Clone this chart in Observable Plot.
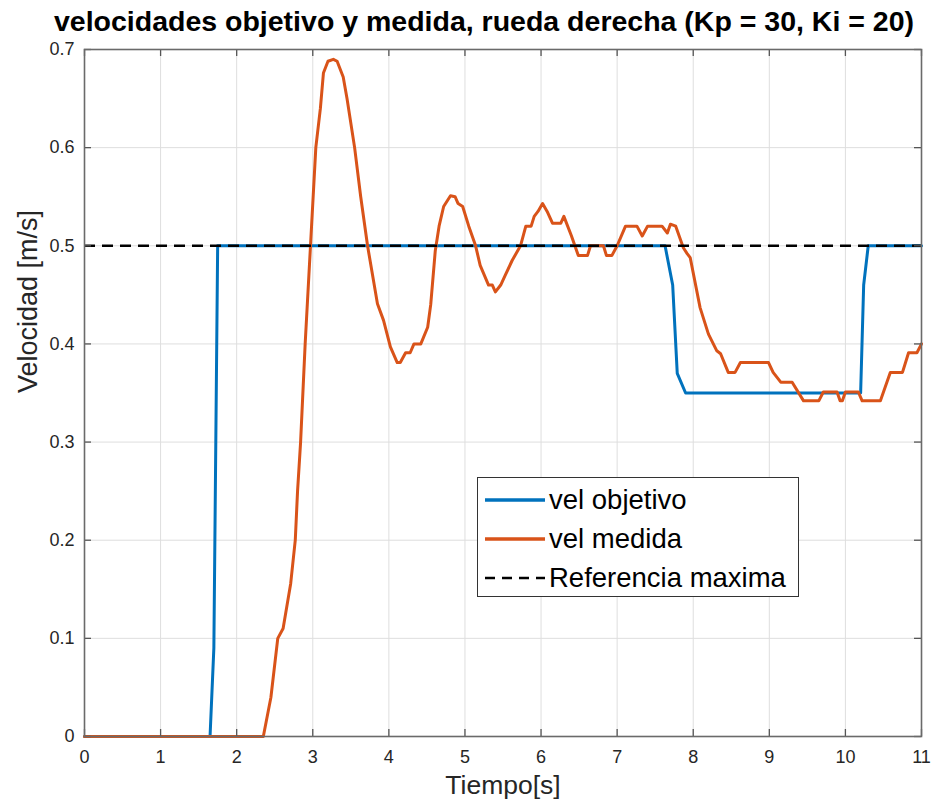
<!DOCTYPE html>
<html>
<head>
<meta charset="utf-8">
<script src="https://cdn.jsdelivr.net/npm/d3@7"></script>
<script src="https://cdn.jsdelivr.net/npm/@observablehq/plot@0.6"></script>
<style>
  body { margin: 0; background: #fff; font-family: "Liberation Sans", Arial, sans-serif; }
  #wrap { position: relative; width: 934px; height: 806px; overflow: hidden; }
  #title { position: absolute; left: 0; top: 5px; width: 968px; text-align: center;
           font-weight: bold; font-size: 28.5px; color: #000; white-space: nowrap; line-height: 33px; }
  #legend { position: absolute; left: 477px; top: 477px; width: 322px; height: 120px;
            border: 1.5px solid #333; background: #fff; box-sizing: border-box; }
  .row { position: absolute; left: 5px; height: 32px; display: flex; align-items: center;
         font-size: 27.5px; color: #000; white-space: nowrap; }
  .row svg { width: 64px; height: 10px; margin-right: 2px; }
</style>
</head>
<body>
<div id="wrap">
  <div id="chart"></div>
  <div id="title"></div>
  <div id="legend"></div>
</div>
<script>
// ---- data ----
const tituloGrafico = "velocidades objetivo y medida, rueda derecha (Kp = 30, Ki = 20)";
const etiquetaX = "Tiempo[s]";
const etiquetaY = "Velocidad [m/s]";
const nombresSeries = ["vel objetivo", "vel medida", "Referencia maxima"];

const tiempoObjetivo = [0, 1.65, 1.70, 1.75, 7.63, 7.73, 7.79, 7.90, 10.20, 10.24, 10.30, 11];
const velObjetivo    = [0, 0,    0.09, 0.5,  0.5,  0.46, 0.37, 0.35, 0.35,  0.46,  0.5,   0.5];

const tiempoMedida = [0, 2.35, 2.45, 2.54, 2.61, 2.71, 2.77, 2.80, 2.84, 2.90, 2.97, 3.04, 3.10, 3.14, 3.20, 3.27,
  3.32, 3.40, 3.45, 3.55, 3.63, 3.72, 3.85, 3.93, 4.02, 4.11, 4.15, 4.22, 4.28, 4.33, 4.42, 4.51, 4.55, 4.61,
  4.66, 4.72, 4.81, 4.87, 4.91, 4.97, 5.05, 5.14, 5.20, 5.31, 5.36, 5.40, 5.47, 5.53, 5.62, 5.73, 5.80, 5.87,
  5.91, 5.96, 6.02, 6.08, 6.15, 6.26, 6.30, 6.40, 6.49, 6.61, 6.65, 6.82, 6.86, 6.93, 7.00, 7.11, 7.26, 7.33,
  7.40, 7.59, 7.66, 7.70, 7.77, 7.87, 7.92, 7.96, 8.09, 8.20, 8.31, 8.36, 8.46, 8.55, 8.62, 8.99, 9.05, 9.15,
  9.30, 9.45, 9.65, 9.71, 9.89, 9.93, 9.96, 10.00, 10.17, 10.22, 10.46, 10.59, 10.75, 10.83, 10.94, 11.00];
const velMedida = [0, 0, 0.04, 0.10, 0.11, 0.156, 0.20, 0.25, 0.30, 0.40, 0.50, 0.60, 0.64, 0.676, 0.688, 0.69,
  0.688, 0.672, 0.65, 0.60, 0.55, 0.50, 0.441, 0.424, 0.397, 0.381, 0.381, 0.391, 0.391, 0.40, 0.40, 0.417, 0.44, 0.495,
  0.52, 0.54, 0.551, 0.55, 0.543, 0.54, 0.52, 0.50, 0.48, 0.46, 0.46, 0.453, 0.46, 0.47, 0.485, 0.50, 0.52, 0.52,
  0.53, 0.535, 0.543, 0.535, 0.523, 0.523, 0.53, 0.51, 0.49, 0.49, 0.50, 0.50, 0.49, 0.49, 0.50, 0.52, 0.52, 0.51,
  0.52, 0.52, 0.513, 0.522, 0.52, 0.498, 0.492, 0.488, 0.437, 0.41, 0.393, 0.39, 0.371, 0.371, 0.381, 0.381, 0.371, 0.361,
  0.361, 0.342, 0.342, 0.351, 0.351, 0.342, 0.342, 0.351, 0.351, 0.342, 0.342, 0.371, 0.371, 0.391, 0.391, 0.40];

const referenciaMaxima = [0.5];
const ticksX = [0, 1, 2, 3, 4, 5, 6, 7, 8, 9, 10, 11];
const ticksY = [0, 0.1, 0.2, 0.3, 0.4, 0.5, 0.6, 0.7];
const etiquetasY = ["0", "0.1", "0.2", "0.3", "0.4", "0.5", "0.6", "0.7"];

// ---- styling ----
const azul = "#0072BD", naranja = "#D95319";
const objetivo = tiempoObjetivo.map((t, i) => ({t, v: velObjetivo[i]}));
const medida = tiempoMedida.map((t, i) => ({t, v: velMedida[i]}));

const W = 934, H = 806, mL = 84, mR = 13, mT = 49, mB = 70;
const pxX = (11 - 0) / (W - mL - mR);   // data units per pixel
const pxY = (0.7 - 0) / (H - mT - mB);
const tickLen = 7;

const chart = Plot.plot({
  width: W, height: H,
  marginLeft: mL, marginRight: mR, marginTop: mT, marginBottom: mB,
  style: { fontFamily: "Liberation Sans, Arial, sans-serif", background: "white", color: "#262626", overflow: "visible" },
  x: { domain: [0, 11] },
  y: { domain: [0, 0.7] },
  marks: [
    Plot.gridX(ticksX, { stroke: "#dedede", strokeOpacity: 1, strokeWidth: 1 }),
    Plot.gridY(ticksY, { stroke: "#dedede", strokeOpacity: 1, strokeWidth: 1 }),
    Plot.line(objetivo, { x: "t", y: "v", stroke: azul, strokeWidth: 3 }),
    Plot.line(medida, { x: "t", y: "v", stroke: naranja, strokeWidth: 3 }),
    Plot.ruleY(referenciaMaxima, { stroke: "black", strokeWidth: 2.6, strokeDasharray: "11,7" }),
    // inward ticks on all four sides
    Plot.ruleX(ticksX, { x: d => d, y1: 0, y2: tickLen * pxY, stroke: "#555", strokeWidth: 1.3 }),
    Plot.ruleX(ticksX, { x: d => d, y1: 0.7, y2: 0.7 - tickLen * pxY, stroke: "#555", strokeWidth: 1.3 }),
    Plot.ruleY(ticksY, { y: d => d, x1: 0, x2: tickLen * pxX, stroke: "#555", strokeWidth: 1.3 }),
    Plot.ruleY(ticksY, { y: d => d, x1: 11, x2: 11 - tickLen * pxX, stroke: "#555", strokeWidth: 1.3 }),
    Plot.frame({ stroke: "#6a6a6a", strokeWidth: 1.6 }),
    Plot.axisX(ticksX, { tickSize: 0, tickPadding: 14, fontSize: 18, label: null, tickFormat: d => String(d) }),
    Plot.axisY(ticksY, { tickSize: 0, tickPadding: 10, fontSize: 18, label: null, tickFormat: (d, i) => etiquetasY[i] }),
    Plot.text([etiquetaX], { frameAnchor: "bottom", text: d => d, dy: 57, fontSize: 26.5, fill: "#262626" }),
    Plot.text([etiquetaY], { frameAnchor: "left", text: d => d, dx: -56, rotate: -90, fontSize: 27, fill: "#262626" })
  ]
});
document.getElementById("chart").appendChild(chart);
document.getElementById("title").textContent = tituloGrafico;

// legend
const legend = document.getElementById("legend");
const estilos = [
  { stroke: azul, dash: null, width: 3.5 },
  { stroke: naranja, dash: null, width: 3.5 },
  { stroke: "#000", dash: "10,7", width: 2.6 }
];
const filasY = [6, 45, 84];
nombresSeries.forEach((nombre, i) => {
  const row = document.createElement("div");
  row.className = "row";
  row.style.top = filasY[i] + "px";
  const s = estilos[i];
  row.innerHTML = `<svg viewBox="0 0 64 10"><line x1="2" x2="62" y1="5" y2="5" stroke="${s.stroke}" stroke-width="${s.width}" ${s.dash ? `stroke-dasharray="${s.dash}"` : ""}/></svg><span>${nombre}</span>`;
  legend.appendChild(row);
});
</script>
</body>
</html>
